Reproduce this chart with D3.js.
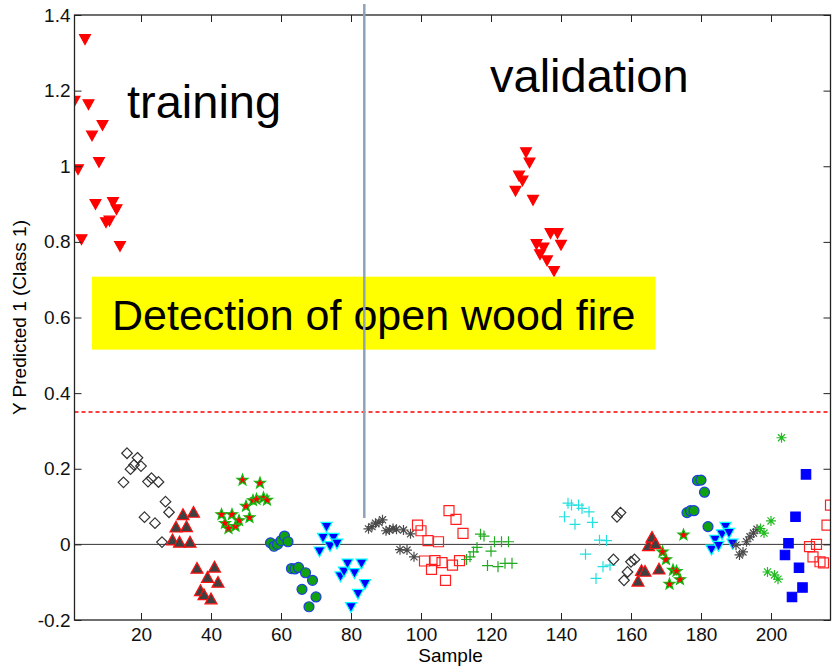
<!DOCTYPE html>
<html>
<head>
<meta charset="utf-8">
<script src="https://cdn.jsdelivr.net/npm/d3@7"></script>
<style>
  body { margin: 0; background: #fff; }
  text { font-family: "Liberation Sans", Arial, Helvetica, sans-serif; }
</style>
</head>
<body>
<svg id="chart" width="833" height="669"></svg>
<script>
// training: samples 1-84, 14 per class
const trainFire = [1.172, 0.991, 0.806, 1.335, 1.163, 1.080, 0.899, 1.010, 1.108, 0.851, 0.855, 0.904, 0.885, 0.788];
const trainDiamond = [0.164, 0.241, 0.199, 0.210, 0.229, 0.207, 0.072, 0.166, 0.175, 0.056, 0.165, 0.006, 0.113, 0.085];
const trainTriangle = [0.013, 0.047, 0.007, 0.080, 0.048, 0.007, 0.086, -0.062, -0.121, -0.132, -0.086, -0.143, -0.059, -0.099];
const trainStar = [0.079, 0.056, 0.042, 0.079, 0.048, 0.063, 0.170, 0.101, 0.071, 0.116, 0.119, 0.162, 0.123, 0.117];
const trainCircle = [0.004, -0.005, 0.000, 0.010, 0.022, 0.007, -0.064, -0.065, -0.061, -0.119, -0.075, -0.165, -0.095, -0.139];
const trainBlueTri = [-0.020, 0.016, 0.045, -0.006, 0.016, 0.001, -0.086, -0.073, -0.052, -0.167, -0.077, -0.132, -0.052, -0.106];

// validation: samples 85-217
const valAsterisk = [0.041, 0.047, 0.056, 0.058, 0.065, 0.036, 0.038, 0.042, 0.040, -0.014, 0.038, -0.015, 0.028, -0.033];
const valSquare = [0.051, 0.036, -0.044, 0.010, -0.066, -0.043, 0.007, -0.048, -0.095, 0.089, -0.055, 0.066, -0.043, 0.029];
const valPlus = [-0.040, -0.033, -0.020, -0.008, 0.027, 0.022, -0.056, -0.018, 0.007, -0.059, 0.007, -0.050, 0.007, -0.050];
const valFire = [0.934, 0.974, 0.961, 1.036, 1.009, 0.910, 0.793, 0.766, 0.784, 0.750, 0.822, 0.722, 0.822, 0.791];
const valCyanPlus = [0.073, 0.109, 0.104, 0.053, 0.104, 0.095, -0.026, 0.086, 0.058, -0.090, 0.011, -0.059, 0.010, -0.055];
const valDiamond = [-0.040, 0.073, 0.084, -0.095, -0.073, -0.046, -0.040];
const valTriangle = [-0.096, -0.068, -0.070, -0.002, 0.020, 0.003, -0.064];
const valStar = [-0.020, -0.040, -0.105, -0.068, -0.071, -0.093, 0.025];
const valCircle = [0.084, 0.089, 0.089, 0.169, 0.170, 0.138, 0.047];
const valBlueTri = [-0.015, 0.011, -0.005, 0.025, 0.045, 0.029, 0.001];
const valGreyAst = [-0.002, -0.028, -0.020, 0.007, 0.020, 0.030, 0.040];
const valGreenAst = [0.042, 0.030, -0.073, 0.062, -0.081, -0.092, 0.282];
const valBlueSquare = [-0.028, 0.003, -0.139, 0.073, -0.062, -0.114, 0.185];
const valRedSquare = [-0.006, -0.033, 0.000, -0.046, -0.049, 0.051, 0.104];

const xTicks = [20, 40, 60, 80, 100, 120, 140, 160, 180, 200];
const yTicks = [-0.2, 0, 0.2, 0.4, 0.6, 0.8, 1, 1.2, 1.4];
const threshold = 0.35;
const splitSample = 83.8;

// marker styles per class
const styles = {
  fire:      { shape: 'triDown', size: 5.4, fill: '#ff0000', stroke: '#ff0000' },
  diamond:   { shape: 'diamond', size: 5.3, fill: 'none', stroke: '#333333' },
  triangle:  { shape: 'triUp', size: 6, fill: '#404040', stroke: '#ff1010' },
  star:      { shape: 'star', size: 5.8, fill: '#ff0000', stroke: '#11bb11' },
  circle:    { shape: 'circle', size: 5, fill: '#10a010', stroke: '#1f3fe0' },
  blueTri:   { shape: 'triDown', size: 5.5, fill: '#0000ff', stroke: '#00ffff' },
  greyAst:   { shape: 'asterisk', size: 5, fill: 'none', stroke: '#4a4a4a' },
  square:    { shape: 'square', size: 5, fill: 'none', stroke: '#ff2020' },
  plus:      { shape: 'plus', size: 5.5, fill: 'none', stroke: '#22aa22' },
  cyanPlus:  { shape: 'plus', size: 5.5, fill: 'none', stroke: '#22e0e0' },
  greenAst:  { shape: 'asterisk', size: 5, fill: 'none', stroke: '#22bb22' },
  blueSq:    { shape: 'square', size: 4.7, fill: '#0000ff', stroke: '#0000ff' }
};

const groups = [
  [1, trainFire, 'fire'], [15, trainDiamond, 'diamond'], [29, trainTriangle, 'triangle'],
  [43, trainStar, 'star'], [57, trainCircle, 'circle'], [71, trainBlueTri, 'blueTri'],
  [85, valAsterisk, 'greyAst'], [99, valSquare, 'square'], [113, valPlus, 'plus'],
  [127, valFire, 'fire'], [141, valCyanPlus, 'cyanPlus'], [155, valDiamond, 'diamond'],
  [162, valTriangle, 'triangle'], [169, valStar, 'star'], [176, valCircle, 'circle'],
  [183, valBlueTri, 'blueTri'], [190, valGreyAst, 'greyAst'], [197, valGreenAst, 'greenAst'],
  [204, valBlueSquare, 'blueSq'], [211, valRedSquare, 'square']
];

const points = [];
groups.forEach(([start, values, key]) => {
  values.forEach((v, i) => points.push({ sample: start + i, value: v, style: styles[key] }));
});

function markerPath(shape, s) {
  switch (shape) {
    case 'triDown': return `M${-s},${-s * 0.9}L${s},${-s * 0.9}L0,${s * 0.9}Z`;
    case 'triUp': return `M${-s},${s * 0.9}L${s},${s * 0.9}L0,${-s * 0.9}Z`;
    case 'diamond': return `M0,${-s}L${s},0L0,${s}L${-s},0Z`;
    case 'square': return `M${-s},${-s}H${s}V${s}H${-s}Z`;
    case 'plus': return `M${-s},0H${s}M0,${-s}V${s}`;
    case 'asterisk': {
      const d = s * 0.7071;
      return `M${-s},0H${s}M0,${-s}V${s}M${-d},${-d}L${d},${d}M${-d},${d}L${d},${-d}`;
    }
    case 'star': {
      let p = '';
      for (let k = 0; k < 10; k++) {
        const r = k % 2 === 0 ? s : s * 0.42;
        const a = -Math.PI / 2 + k * Math.PI / 5;
        p += (k === 0 ? 'M' : 'L') + (r * Math.cos(a)).toFixed(2) + ',' + (r * Math.sin(a)).toFixed(2);
      }
      return p + 'Z';
    }
    default: return d3.arc()({ innerRadius: 0, outerRadius: s, startAngle: 0, endAngle: 2 * Math.PI });
  }
}

const svg = d3.select('#chart');
const plotLeft = 74.5, plotRight = 830.5, plotTop = 15, plotBottom = 620;

const x = d3.scaleLinear().domain([1, 217]).range([plotLeft, plotRight]);
const y = d3.scaleLinear().domain([-0.2, 1.4]).range([plotBottom, plotTop]);

svg.append('defs').append('clipPath').attr('id', 'plot-clip')
  .append('rect').attr('x', plotLeft).attr('y', plotTop)
  .attr('width', plotRight - plotLeft).attr('height', plotBottom - plotTop);

// reference lines
svg.append('line')
  .attr('x1', plotLeft).attr('x2', plotRight).attr('y1', y(0)).attr('y2', y(0))
  .attr('stroke', '#333').attr('stroke-width', 1);
svg.append('line')
  .attr('x1', plotLeft).attr('x2', plotRight).attr('y1', y(threshold)).attr('y2', y(threshold))
  .attr('stroke', '#ff0000').attr('stroke-width', 1.5).attr('stroke-dasharray', '4,3');

// markers
svg.append('g').attr('clip-path', 'url(#plot-clip)')
  .selectAll('path')
  .data(points)
  .enter()
  .append('path')
  .attr('transform', (d) => `translate(${x(d.sample)},${y(d.value)})`)
  .attr('d', (d) => markerPath(d.style.shape, d.style.size))
  .attr('fill', (d) => d.style.fill)
  .attr('stroke', (d) => d.style.stroke)
  .attr('stroke-width', 1.2);

// axes (ticks pointing inward, MATLAB style)
const fmt = (d) => String(+d.toFixed(1));
const axes = svg.append('g');
axes.append('g').attr('transform', `translate(0,${plotBottom})`)
  .call(d3.axisBottom(x).tickValues(xTicks).tickSizeInner(-7).tickSizeOuter(0).tickPadding(8));
axes.append('g').attr('transform', `translate(0,${plotTop})`)
  .call(d3.axisTop(x).tickValues(xTicks).tickSizeInner(-7).tickSizeOuter(0).tickFormat(''));
axes.append('g').attr('transform', `translate(${plotLeft},0)`)
  .call(d3.axisLeft(y).tickValues(yTicks).tickSizeInner(-7).tickSizeOuter(0).tickPadding(4).tickFormat(fmt));
axes.append('g').attr('transform', `translate(${plotRight},0)`)
  .call(d3.axisRight(y).tickValues(yTicks).tickSizeInner(-7).tickSizeOuter(0).tickFormat(''));
axes.selectAll('.domain').remove();
axes.selectAll('.tick text')
  .attr('fill', '#111')
  .attr('font-size', 19)
  .attr('font-family', '"Liberation Sans", Arial, sans-serif');
axes.selectAll('line').attr('stroke', '#222');
svg.append('rect')
  .attr('x', plotLeft).attr('y', plotTop)
  .attr('width', plotRight - plotLeft).attr('height', plotBottom - plotTop)
  .attr('fill', 'none').attr('stroke', '#222').attr('stroke-width', 1.3);

// axis titles
svg.append('text')
  .attr('x', (plotLeft + plotRight) / 2 - 2).attr('y', 662)
  .attr('text-anchor', 'middle').attr('font-size', 19).text('Sample');
svg.append('text')
  .attr('transform', `translate(26,${(plotTop + plotBottom) / 2}) rotate(-90)`)
  .attr('text-anchor', 'middle').attr('font-size', 19).text('Y Predicted 1 (Class 1)');

// annotations
svg.append('text').attr('x', 127).attr('y', 118).attr('font-size', 47).text('training');
svg.append('text').attr('x', 490).attr('y', 92).attr('font-size', 47).text('validation');

svg.append('rect')
  .attr('x', x(6)).attr('y', y(0.708))
  .attr('width', x(167) - x(6)).attr('height', y(0.515) - y(0.708))
  .attr('fill', '#ffff00');
svg.append('text').attr('x', 112).attr('y', 330).attr('font-size', 43)
  .text('Detection of open wood fire');

svg.append('line')
  .attr('x1', x(splitSample)).attr('x2', x(splitSample))
  .attr('y1', 4).attr('y2', y(0.07))
  .attr('stroke', '#8fa3b8').attr('stroke-width', 2.5);
</script>
</body>
</html>
